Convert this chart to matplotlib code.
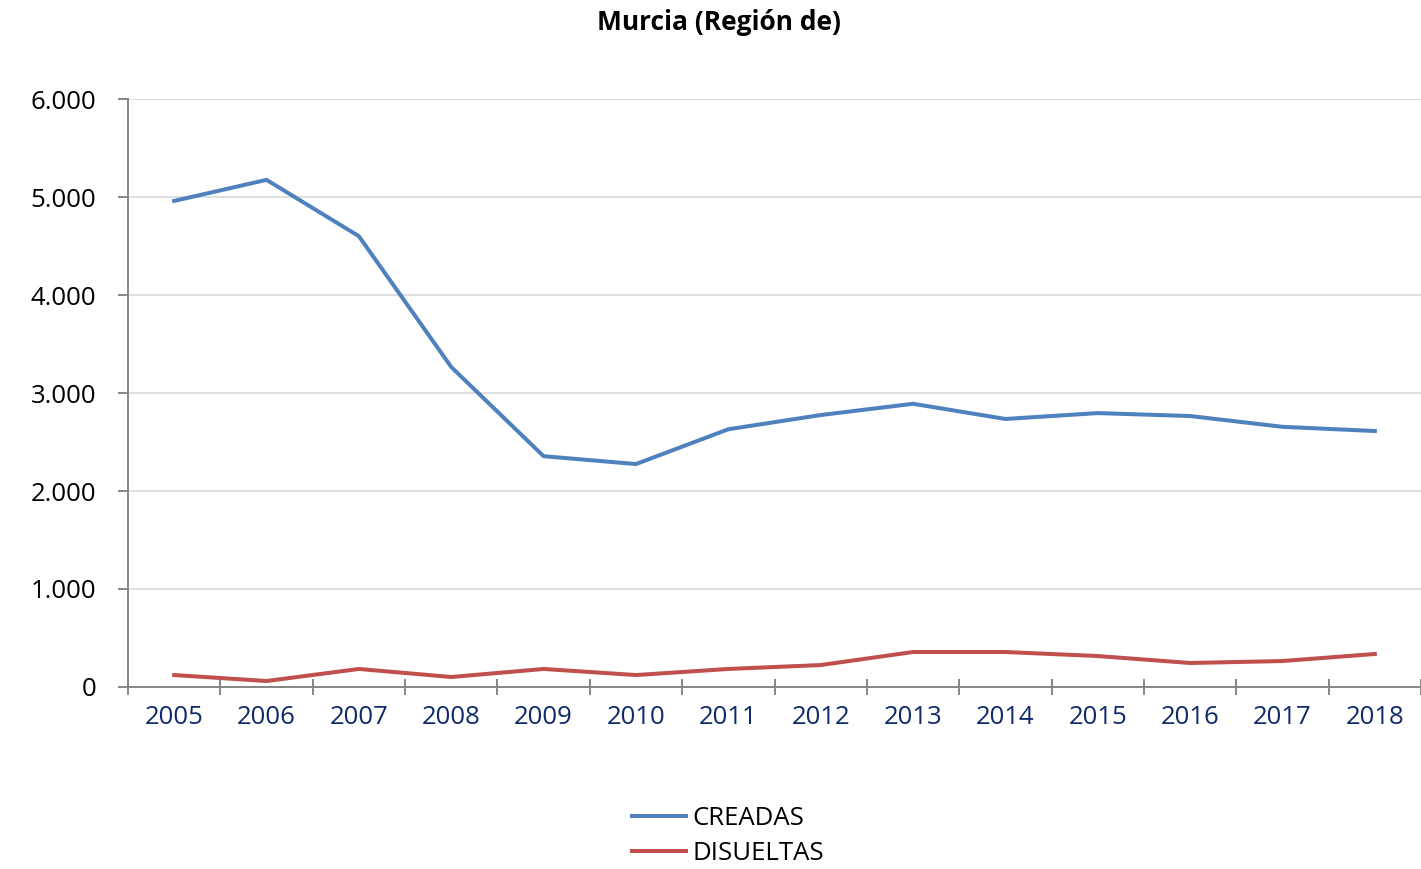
import matplotlib

matplotlib.use("Agg")

import matplotlib.pyplot as plt
from matplotlib.lines import Line2D
from matplotlib.ticker import FuncFormatter

years = [str(y) for y in range(2005, 2019)]
creadas = [4960, 5175, 4600, 3265, 2355, 2275, 2630, 2775, 2890, 2735, 2795, 2765, 2655, 2612]
disueltas = [122, 61, 184, 102, 184, 122, 184, 224, 357, 357, 316, 245, 265, 337]

BLUE = "#4F81BD"
RED = "#C0504D"
AXIS_GREY = "#868686"

plt.rcParams["font.family"] = ["Open Sans", "DejaVu Sans"]

figure = plt.figure(figsize=(14.21, 8.69), dpi=100)
axis = figure.add_axes([128 / 1421, 1 - 687 / 869, 1 - 128 / 1421, (687 - 99) / 869])

x = list(range(len(years)))
axis.plot(x, creadas, color=BLUE, linewidth=2.9, label="CREADAS")
axis.plot(x, disueltas, color=RED, linewidth=2.9, label="DISUELTAS")

axis.set_xlim(-0.5, len(years) - 0.5)
axis.set_ylim(0, 6000)
axis.set_yticks(range(0, 6001, 1000))
axis.yaxis.set_major_formatter(
    FuncFormatter(lambda v, _: f"{int(v):,}".replace(",", "."))
)
axis.grid(axis="y", color="#D9D9D9", linewidth=1.2)
axis.set_axisbelow(True)

axis.set_xticks(x, years)
axis.set_xticks([i - 0.5 for i in range(len(years) + 1)], minor=True)
axis.tick_params(axis="x", which="major", length=0, pad=13, labelsize=18.5,
                 labelcolor="#0F2A6B")
axis.tick_params(axis="x", which="minor", direction="inout", length=12,
                 width=1.4, color=AXIS_GREY)
axis.tick_params(axis="y", direction="out", length=7, width=1.4, color=AXIS_GREY,
                 labelsize=18.5, pad=16)

for side in ("top", "right"):
    axis.spines[side].set_visible(False)
for side in ("left", "bottom"):
    axis.spines[side].set_color(AXIS_GREY)
    axis.spines[side].set_linewidth(1.4)

figure.text(719 / 1421, 1 - 22 / 869, "Murcia (Región de)", ha="center", va="center",
            fontsize=19, fontweight="bold")

handles = [Line2D([], [], color=BLUE, linewidth=2.9),
           Line2D([], [], color=RED, linewidth=2.9)]
figure.legend(handles, ["CREADAS", "DISUELTAS"], loc="center",
              bbox_to_anchor=(728 / 1421, 1 - 836 / 869), frameon=False,
              prop={"size": 18.5}, handlelength=2.1, handletextpad=0.25,
              labelspacing=0.4)

figure.savefig("out.png", dpi=100)
plt.close(figure)
